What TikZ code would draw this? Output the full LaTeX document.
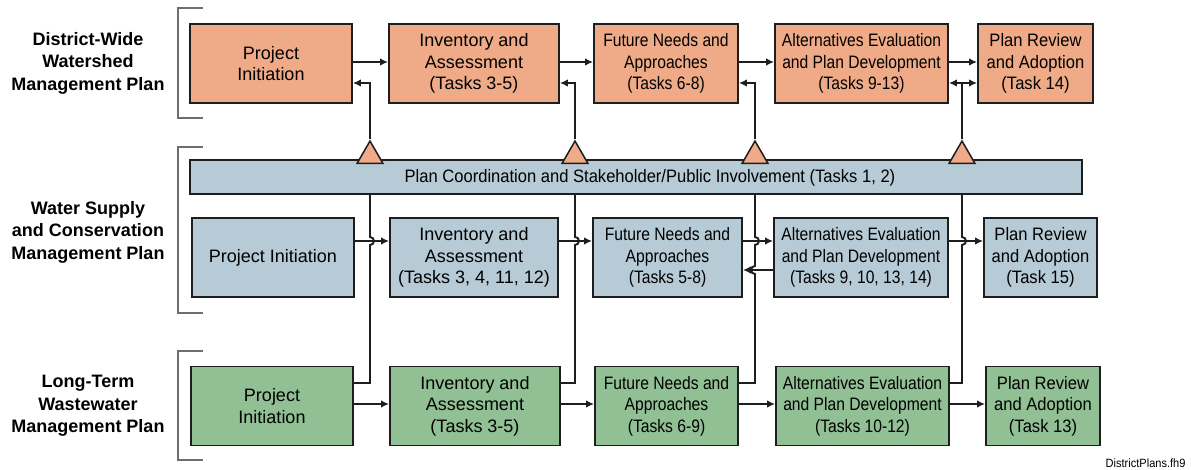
\documentclass[tikz,border=0pt]{standalone}
\usepackage{fontspec}
\setmainfont{Liberation Sans}
\newfontfamily\narrowA{Liberation Sans}[FakeStretch=0.87]
\newfontfamily\narrowB{Liberation Sans}[FakeStretch=0.92]
\usetikzlibrary{arrows.meta,shapes.geometric}
\definecolor{orfill}{RGB}{239,170,135}
\definecolor{blfill}{RGB}{182,203,214}
\definecolor{grfill}{RGB}{145,192,148}
\definecolor{edge}{RGB}{30,30,30}
\definecolor{brk}{RGB}{110,110,110}
\tikzset{
  box/.style={draw=edge, line width=1.8pt, minimum height=79pt, align=center, inner sep=0pt,
    font=\fontsize{18}{21.5}\selectfont},
  nA/.style={font=\narrowA\fontsize{18}{21.5}\selectfont},
  nB/.style={font=\narrowB\fontsize{18}{21.5}\selectfont},
  obox/.style={box, fill=orfill},
  bbox/.style={box, fill=blfill},
  gbox/.style={box, fill=grfill},
  tri/.style={regular polygon, regular polygon sides=3, minimum size=30pt, inner sep=0pt,
    draw=edge, line width=1.5pt, fill=orfill},
  conn/.style={draw=edge, line width=1.9pt},
  arr/.style={conn, -{Latex[length=8pt,width=7.5pt]}},
  brack/.style={draw=brk, line width=1.2pt},
  lab/.style={align=center, font=\bfseries\fontsize{18}{22.5}\selectfont},
}
\begin{document}
\begin{tikzpicture}[x=1pt,y=-1pt]
\useasboundingbox (0,0) rectangle (1191,470);
% left labels
\node[lab] (L1) at (88,63) {District-Wide\\Watershed\\Management Plan};
\node[lab] (L2) at (88,232) {Water Supply\\and Conservation\\Management Plan};
\node[lab] (L3) at (88,406) {Long-Term\\Wastewater\\Management Plan};
% brackets
\draw[brack] (203,8) -- (178,8) -- (178,118) -- (203,118);
\draw[brack] (203,147) -- (178,147) -- (178,313) -- (203,313);
\draw[brack] (203,351) -- (178,351) -- (178,460) -- (203,460);
% top row
\node[obox, minimum width=162pt] (T1) at (271,63.5) {Project\\Initiation};
\node[obox, minimum width=170pt] (T2) at (474,63.5) {Inventory and\\Assessment\\(Tasks 3-5)};
\node[obox, nA, minimum width=144pt] (T3) at (666,63.5) {Future Needs and\\Approaches\\(Tasks 6-8)};
\node[obox, nA, minimum width=173pt] (T4) at (861.5,63.5) {Alternatives Evaluation\\and Plan Development\\(Tasks 9-13)};
\node[obox, nB, minimum width=115pt] (T5) at (1035.5,63.5) {Plan Review\\and Adoption\\(Task 14)};
% bar
\node[box, fill=blfill, minimum width=892pt, minimum height=34pt] (bar) at (636,177) {};
\node[font=\narrowB\fontsize{18}{20}\selectfont] (bartxt) at (650,178) {Plan Coordination and Stakeholder/Public Involvement (Tasks 1, 2)};
% middle row
\node[bbox, minimum width=162pt] (M1) at (273,257.5) {Project Initiation};
\node[bbox, minimum width=168pt] (M2) at (474,257.5) {Inventory and\\Assessment\\(Tasks 3, 4, 11, 12)};
\node[bbox, nA, minimum width=149pt] (M3) at (667.5,257.5) {Future Needs and\\Approaches\\(Tasks 5-8)};
\node[bbox, nA, minimum width=174pt] (M4) at (861,257.5) {Alternatives Evaluation\\and Plan Development\\(Tasks 9, 10, 13, 14)};
\node[bbox, nB, minimum width=113pt] (M5) at (1040.5,257.5) {Plan Review\\and Adoption\\(Task 15)};
% bottom row
\node[gbox, minimum width=162pt] (B1) at (272,406) {Project\\Initiation};
\node[gbox, minimum width=170pt] (B2) at (475,406) {Inventory and\\Assessment\\(Tasks 3-5)};
\node[gbox, nA, minimum width=143pt] (B3) at (666.5,406) {Future Needs and\\Approaches\\(Tasks 6-9)};
\node[gbox, nA, minimum width=173pt] (B4) at (862.5,406) {Alternatives Evaluation\\and Plan Development\\(Tasks 10-12)};
\node[gbox, nB, minimum width=114pt] (B5) at (1043,406) {Plan Review\\and Adoption\\(Task 13)};
% triangles
\node[tri] (tr1) at (370,156) {};
\node[tri] (tr2) at (575,156) {};
\node[tri] (tr3) at (755,156) {};
\node[tri] (tr4) at (962,156) {};
% top connectors
\draw[arr] (T1.east |- 0,62) -- (T2.west |- 0,62);
\draw[arr] (T2.east |- 0,62) -- (T3.west |- 0,62);
\draw[arr] (T3.east |- 0,62) -- (T4.west |- 0,62);
\draw[arr] (T4.east |- 0,62) -- (T5.west |- 0,62);
\draw[arr] (tr1.corner 1) |- (T1.east |- 0,83);
\draw[arr] (tr2.corner 1) |- (T2.east |- 0,83);
\draw[arr] (tr3.corner 1) |- (T3.east |- 0,83);
\draw[arr] (tr4.corner 1) |- (T4.east |- 0,83);
\draw[arr] (tr4.corner 1 |- 0,83) -- (T5.west |- 0,83);
% middle connectors
\draw[arr] (M1.east |- 0,241) -- (M2.west |- 0,241);
\draw[arr] (M2.east |- 0,241) -- (M3.west |- 0,241);
\draw[arr] (M3.east |- 0,241) -- (M4.west |- 0,241);
\draw[arr] (M4.east |- 0,241) -- (M5.west |- 0,241);
\draw[arr] (M4.west |- 0,270) -- (M3.east |- 0,270);
% vertical lines from bar to bottom row
\draw[conn] (tr1 |- bar.south) -- (370,237) arc[start angle=90, end angle=-90, radius=4pt] -- (370,383) -- (B1.east |- 0,383);
\draw[conn] (tr2 |- bar.south) -- (575,237) arc[start angle=90, end angle=-90, radius=4pt] -- (575,383) -- (B2.east |- 0,383);
\draw[conn] (tr3 |- bar.south) -- (755,237) arc[start angle=90, end angle=-90, radius=4pt] -- (755,266) arc[start angle=90, end angle=270, radius=4pt] -- (755,383) -- (B3.east |- 0,383);
\draw[conn] (tr4 |- bar.south) -- (962,237) arc[start angle=90, end angle=-90, radius=4pt] -- (962,383) -- (B4.east |- 0,383);
% bottom connectors
\draw[arr] (B1.east |- 0,404) -- (B2.west |- 0,404);
\draw[arr] (B2.east |- 0,404) -- (B3.west |- 0,404);
\draw[arr] (B3.east |- 0,404) -- (B4.west |- 0,404);
\draw[arr] (B4.east |- 0,404) -- (B5.west |- 0,404);
% footnote
\node[anchor=east, font=\narrowB\fontsize{12}{14}\selectfont] (fn) at (1189,463) {DistrictPlans.fh9};
\end{tikzpicture}
\end{document}
